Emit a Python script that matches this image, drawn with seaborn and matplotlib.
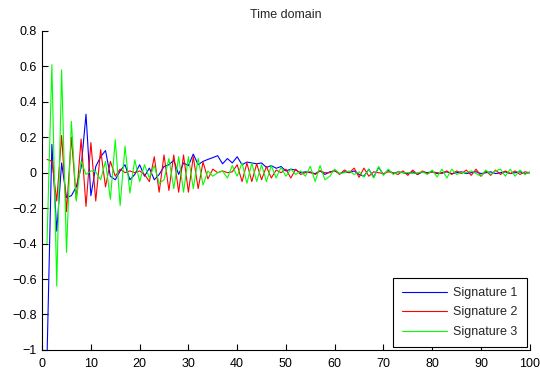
import numpy as np
import pandas as pd
import matplotlib
matplotlib.use("Agg")
import matplotlib.pyplot as plt
import seaborn as sns

# Sample index (1..100)
samples = list(range(1, 101))

signature_1 = [
    -1.05, 0.16, -0.33, 0.055, -0.14, -0.13, -0.08, 0.03, 0.33, -0.13,
    0.035, 0.09, 0.125, -0.02, -0.04, 0.01, 0.045, -0.04, -0.01, 0.045,
    -0.02, 0.026, -0.04, -0.01, 0.035, 0.045, 0.07, -0.01, 0.055, 0.04,
    0.105, 0.045, 0.064, 0.075, 0.085, 0.096, 0.05, 0.08, 0.055, 0.09,
    0.045, 0.06, 0.055, 0.05, 0.055, 0.03, 0.04, 0.025, 0.035, 0.01,
    0.02, 0.015, 0.0, 0.005, 0.0, -0.005, 0.01, -0.01, 0.005, 0.01,
    -0.005, 0.005, 0.0, 0.01, -0.01, -0.02, 0.02, -0.025, 0.03, -0.01,
    0.015, -0.005, 0.005, 0.0, -0.005, 0.005, -0.01, 0.005, 0.0, 0.005,
    -0.005, 0.0, 0.005, -0.005, 0.0, 0.005, -0.005, 0.0, 0.005, -0.005,
    0.0, 0.005, -0.005, 0.0, 0.005, -0.005, 0.0, 0.005, -0.005, 0.0,
]

signature_2 = [
    0.075, 0.065, -0.16, 0.21, -0.22, 0.20, -0.15, 0.19, -0.19, 0.17,
    -0.16, 0.13, -0.08, 0.064, -0.02, 0.02, 0.0, 0.01, 0.0, 0.01,
    -0.01, -0.05, 0.09, -0.11, 0.10, -0.10, 0.10, -0.11, 0.10, -0.11,
    0.09, -0.09, 0.06, -0.035, 0.02, 0.0, 0.01, 0.0, 0.005, 0.045,
    -0.05, 0.055, -0.05, 0.05, -0.04, 0.035, -0.03, 0.015, 0.0, 0.02,
    -0.03, 0.02, -0.01, 0.0, 0.005, -0.01, 0.01, 0.0, 0.0, 0.015,
    -0.01, 0.015, 0.0, 0.026, -0.026, 0.026, -0.02, 0.005, 0.0, -0.005,
    0.005, 0.0, -0.01, 0.01, -0.015, 0.015, -0.01, 0.01, -0.005, 0.005,
    0.0, -0.005, 0.01, -0.01, 0.01, -0.005, 0.015, -0.015, 0.02, -0.02,
    0.01, -0.015, 0.015, -0.01, 0.01, -0.005, 0.01, -0.01, 0.005, 0.0,
]

signature_3 = [
    -0.40, 0.61, -0.64, 0.58, -0.45, 0.29, -0.16, 0.065, -0.01, 0.01,
    0.005, -0.04, 0.064, -0.15, 0.186, -0.185, 0.15, -0.115, 0.073, -0.05,
    0.045, -0.03, 0.04, -0.06, -0.04, 0.08, -0.09, 0.09, -0.11, 0.09,
    -0.09, 0.08, -0.07, 0.01, -0.02, 0.0, 0.01, -0.03, 0.04, -0.02,
    0.055, -0.06, 0.055, -0.05, 0.045, -0.05, 0.04, -0.03, 0.03, -0.02,
    0.02, -0.01, 0.01, -0.02, 0.036, -0.05, 0.04, -0.04, -0.02, 0.02,
    -0.005, 0.0, 0.01, -0.01, 0.005, -0.025, 0.02, -0.03, 0.035, -0.015,
    0.02, -0.01, 0.005, 0.0, 0.0, -0.005, 0.0, 0.005, -0.01, 0.015,
    -0.024, 0.02, -0.03, 0.02, -0.01, 0.0, 0.0, 0.01, -0.005, -0.02,
    0.015, -0.01, 0.01, 0.02, -0.02, 0.02, -0.02, 0.015, -0.01, 0.005,
]

series_names = ["Signature 1", "Signature 2", "Signature 3"]
series_colors = ["#0000FF", "#FF0000", "#00FF00"]
x_ticks = [0, 10, 20, 30, 40, 50, 60, 70, 80, 90, 100]
y_ticks = [-1, -0.8, -0.6, -0.4, -0.2, 0, 0.2, 0.4, 0.6, 0.8]
y_tick_labels = ["\u22121", "\u22120.8", "\u22120.6", "\u22120.4", "\u22120.2",
                 "0", "0.2", "0.4", "0.6", "0.8"]

df = pd.DataFrame({
    "sample": samples * 3,
    "value": signature_1 + signature_2 + signature_3,
    "series": [series_names[0]] * 100 + [series_names[1]] * 100 + [series_names[2]] * 100,
})

sns.set_style("white")
plt.rcParams["font.family"] = ["Liberation Sans", "DejaVu Sans"]

fig = plt.figure(figsize=(5.4, 3.73), dpi=100)
ax = fig.add_axes([0.078, 0.062, 0.903, 0.855])

sns.lineplot(data=df, x="sample", y="value", hue="series",
             palette=dict(zip(series_names, series_colors)),
             linewidth=0.8, ax=ax, estimator=None, sort=False)

ax.set_xlim(0, 100)
ax.set_ylim(-1, 0.8)
ax.set_xticks(x_ticks)
ax.set_yticks(y_ticks)
ax.set_yticklabels(y_tick_labels)
ax.set_xlabel("")
ax.set_ylabel("")
ax.set_title("Time domain", fontsize=9, pad=9)

for side in ("top", "right"):
    ax.spines[side].set_visible(False)
for side in ("left", "bottom"):
    ax.spines[side].set_color("black")
    ax.spines[side].set_linewidth(0.8)
ax.tick_params(direction="in", length=4, width=0.8, labelsize=9,
               colors="black", bottom=True, left=True)
ax.tick_params(axis="x", pad=6)
ax.tick_params(axis="y", pad=4)

leg = ax.legend(loc="lower right", fontsize=9, frameon=True, fancybox=False,
                edgecolor="black", framealpha=1, borderaxespad=0.25,
                handlelength=3.6, handletextpad=0.5, labelspacing=0.6,
                borderpad=0.7)
leg.get_frame().set_linewidth(0.8)

fig.savefig("out.png", dpi=100)
